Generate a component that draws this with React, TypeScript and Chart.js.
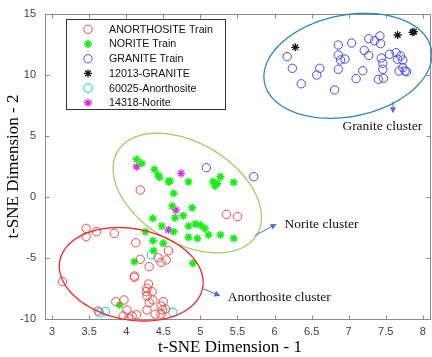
import React, { useEffect, useRef } from 'react';
import { Chart, registerables } from 'chart.js';

Chart.register(...registerables);

// ---- data (t-SNE coordinates) ----
const anorthositeTrain: number[][] = [
  [3.46, -2.57], [3.46, -3.25], [3.60, -2.84], [3.84, -2.98], [4.13, -3.75], [3.14, -6.94],
  [4.57, -4.40], [4.19, -5.11], [4.43, -4.98], [4.47, -5.35], [4.54, -5.16], [4.31, -5.71],
  [4.11, -6.58], [4.11, -6.48], [4.30, -7.13], [4.28, -7.48], [4.27, -7.76], [4.35, -7.76],
  [4.28, -8.11], [4.36, -8.44], [4.31, -8.66], [3.86, -8.58], [3.97, -8.44], [4.01, -9.26],
  [3.96, -9.75], [4.03, -9.94], [4.08, -9.75], [4.14, -9.65], [4.28, -9.26], [4.39, -9.61],
  [4.50, -8.58], [4.47, -8.93], [4.49, -9.26], [4.53, -9.18], [4.47, -9.59], [4.19, 0.57],
  [5.35, -1.42], [5.50, -1.61], [3.62, -9.34],
];
const noriteTrain: number[][] = [
  [4.14, 3.09], [4.21, 2.76], [4.38, 2.27], [4.43, 1.80], [4.45, 1.61], [4.57, 1.25],
  [4.59, 1.31], [4.84, 1.25], [4.64, 0.30], [5.17, 1.25], [5.20, 0.90], [5.23, 1.12],
  [5.27, 1.66], [5.45, 1.20], [4.62, -0.74], [4.89, -0.88], [4.36, -1.75], [4.66, -1.70],
  [4.77, -1.53], [4.48, -2.38], [4.64, -2.84], [4.84, -2.38], [4.93, -2.21], [5.00, -2.30],
  [5.06, -2.57], [5.11, -3.11], [4.84, -3.30], [4.96, -3.39], [5.27, -3.11], [5.45, -3.39],
  [4.26, -2.84], [4.36, -3.58], [4.50, -3.80], [4.37, -4.40], [4.11, -5.30], [4.90, -5.43],
  [3.91, -8.85],
];
const graniteTrain: number[][] = [
  [6.17, 11.5], [6.24, 10.55], [6.36, 9.28], [6.57, 10.0], [6.61, 10.55], [6.81, 8.77],
  [6.86, 12.46], [6.86, 11.64], [6.89, 11.23], [6.95, 11.31], [6.86, 10.47], [7.04, 12.62],
  [7.10, 9.70], [7.19, 10.35], [7.21, 12.02], [7.27, 11.61], [7.27, 12.97], [7.35, 12.81],
  [7.42, 13.2], [7.43, 12.57], [7.44, 11.39], [7.46, 10.96], [7.46, 10.47], [7.40, 9.65],
  [7.47, 9.73], [7.55, 11.7], [7.64, 11.83], [7.66, 11.29], [7.70, 11.56], [7.73, 11.23],
  [7.73, 10.6], [7.68, 10.33], [7.76, 10.33], [7.78, 10.27], [5.08, 2.40], [5.72, 1.66],
];
const granite12013: number[][] = [[6.28, 12.27], [7.66, 13.28], [7.88, 13.55], [7.86, 13.5]];
const anorthosite60025: number[][] = [[4.34, -4.75], [3.64, -9.48], [3.72, -9.40], [4.63, -9.45]];
const norite14318: number[][] = [[4.14, 2.48], [4.74, 1.94], [4.67, -1.07], [4.57, -2.70]];

const seriesNames = [
  'ANORTHOSITE Train', 'NORITE Train', 'GRANITE Train',
  '12013-GRANITE', '60025-Anorthosite', '14318-Norite',
];

const xTicks = [3, 3.5, 4, 4.5, 5, 5.5, 6, 6.5, 7, 7.5, 8];
const yTicks = [-10, -5, 0, 5, 10, 15];
const xRange = [2.905, 8.11];
const yRange = [-10, 15];

const xTitle = 't-SNE Dimension - 1';
const yTitle = 't-SNE Dimension - 2';

// cluster ellipses in data units: centre, major half-axis vector, minor half-axis vector
const clusterEllipses = [
  { cx: 6.989, cy: 10.754, ux: 1.124, uy: 1.385, vx: 0.136, vy: -4.073 },
  { cx: 4.824, cy: 0.328, ux: 0.938, uy: -3.419, vx: -0.348, vy: -3.512 },
  { cx: 4.068, cy: -6.336, ux: 0.963, uy: -1.105, vx: -0.114, vy: -3.666 },
];
// annotation arrows (data units) and labels
const arrowStarts = [[7.598, 7.81], [5.734, -3.17], [5.023, -7.48]];
const arrowEnds = [[7.598, 6.86], [6.027, -2.21], [5.270, -8.11]];
const clusterLabels = ['Granite cluster', 'Norite cluster', 'Anorthosite cluster'];
const labelAnchors = [[6.915, 5.76], [6.135, -2.21], [5.369, -8.22]];

const toPts = (a: number[][]) => a.map(([x, y]) => ({ x, y }));

const styles = [
  { color: 'rgb(255,70,70)', shape: 'circle', lw: 1 },
  { color: 'rgb(20,240,20)', shape: 'star', lw: 1.6 },
  { color: 'rgb(70,70,255)', shape: 'circle', lw: 1 },
  { color: 'rgb(20,20,20)', shape: 'star', lw: 1.3 },
  { color: 'rgb(40,220,230)', shape: 'circle', lw: 1.2 },
  { color: 'rgb(230,40,230)', shape: 'star', lw: 1.4 },
];
const ellipseColors = ['#2e86c8', '#9fcf5f', '#ff2020'];

function drawMarker(ctx: CanvasRenderingContext2D, shape: string, x: number, y: number, r: number) {
  ctx.beginPath();
  if (shape === 'circle') {
    ctx.arc(x, y, r, 0, Math.PI * 2);
  } else {
    for (let k = 0; k < 4; k++) {
      const ang = (k * Math.PI) / 4;
      const dx = Math.cos(ang) * r, dy = Math.sin(ang) * r;
      ctx.moveTo(x - dx, y - dy);
      ctx.lineTo(x + dx, y + dy);
    }
  }
  ctx.stroke();
}

const overlayPlugin = {
  id: 'overlay',
  afterDatasetsDraw(chart: any) {
    const { ctx, chartArea: a, scales } = chart;
    const sx = scales.x, sy = scales.y;
    ctx.save();

    // box + inward ticks
    ctx.strokeStyle = '#8a8a8a';
    ctx.lineWidth = 1;
    const L = Math.round(a.left) + 0.5, R = Math.round(a.right) - 0.5;
    const T = Math.round(a.top) + 0.5, B = Math.round(a.bottom) + 0.5;
    ctx.strokeRect(L, T, R - L, B - T);
    ctx.beginPath();
    const tl = 4;
    xTicks.forEach((v) => {
      const px = Math.round(sx.getPixelForValue(v)) + 0.5;
      ctx.moveTo(px, B); ctx.lineTo(px, B - tl);
      ctx.moveTo(px, T); ctx.lineTo(px, T + tl);
    });
    yTicks.forEach((v) => {
      const py = Math.round(sy.getPixelForValue(v)) + 0.5;
      ctx.moveTo(L, py); ctx.lineTo(L + tl, py);
      ctx.moveTo(R, py); ctx.lineTo(R - tl, py);
    });
    ctx.stroke();

    // ellipses
    clusterEllipses.forEach((e, i) => {
      ctx.beginPath();
      const n = 180;
      for (let k = 0; k <= n; k++) {
        const t = (k / n) * Math.PI * 2;
        const c = Math.cos(t), s = Math.sin(t);
        const px = sx.getPixelForValue(e.cx + e.ux * c + e.vx * s);
        const py = sy.getPixelForValue(e.cy + e.uy * c + e.vy * s);
        if (k === 0) ctx.moveTo(px, py); else ctx.lineTo(px, py);
      }
      ctx.closePath();
      ctx.strokeStyle = ellipseColors[i];
      ctx.lineWidth = 1.3;
      ctx.stroke();
    });

    // arrows
    ctx.strokeStyle = '#4472c4';
    ctx.fillStyle = '#4472c4';
    ctx.lineWidth = 1;
    arrowStarts.forEach((st, i) => {
      const en = arrowEnds[i];
      const x0 = sx.getPixelForValue(st[0]), y0 = sy.getPixelForValue(st[1]);
      const x1 = sx.getPixelForValue(en[0]), y1 = sy.getPixelForValue(en[1]);
      const ang = Math.atan2(y1 - y0, x1 - x0);
      const hl = 6, hw = 3;
      const bx = x1 - Math.cos(ang) * hl, by = y1 - Math.sin(ang) * hl;
      ctx.beginPath(); ctx.moveTo(x0, y0); ctx.lineTo(bx, by); ctx.stroke();
      ctx.beginPath();
      ctx.moveTo(x1, y1);
      ctx.lineTo(bx + Math.sin(ang) * hw, by - Math.cos(ang) * hw);
      ctx.lineTo(bx - Math.sin(ang) * hw, by + Math.cos(ang) * hw);
      ctx.closePath(); ctx.fill();
    });

    // cluster labels
    ctx.fillStyle = '#111';
    ctx.font = '13.5px "Liberation Serif", "Times New Roman", serif';
    ctx.textAlign = 'left';
    ctx.textBaseline = 'middle';
    clusterLabels.forEach((t, i) => {
      ctx.fillText(t, sx.getPixelForValue(labelAnchors[i][0]), sy.getPixelForValue(labelAnchors[i][1]));
    });

    // legend
    const lx = Math.round(a.left + 21) + 0.5, ly = Math.round(a.top + 5) + 0.5;
    const lw = 159, lh = 90;
    ctx.fillStyle = '#fff';
    ctx.fillRect(lx, ly, lw, lh);
    ctx.strokeStyle = '#333';
    ctx.lineWidth = 1;
    ctx.strokeRect(lx, ly, lw, lh);
    ctx.font = '10.7px "Liberation Sans", Arial, sans-serif';
    ctx.textBaseline = 'middle';
    seriesNames.forEach((name, i) => {
      const yy = ly + 9.8 + i * 14.7;
      const st = styles[i];
      ctx.strokeStyle = st.color;
      ctx.lineWidth = st.lw;
      drawMarker(ctx, st.shape, lx + 21.5, yy, st.shape === 'circle' ? 4.2 : 4);
      ctx.fillStyle = '#111';
      ctx.fillText(name, lx + 42.5, yy + 0.5);
    });

    // axis titles
    ctx.fillStyle = '#000';
    ctx.font = '17px "Liberation Serif", "Times New Roman", serif';
    ctx.textAlign = 'center';
    ctx.textBaseline = 'middle';
    ctx.fillText(xTitle, 230, a.bottom + 29);
    ctx.save();
    ctx.translate(14, (a.top + a.bottom) / 2);
    ctx.rotate(-Math.PI / 2);
    ctx.fillText(yTitle, 0, 0);
    ctx.restore();

    ctx.restore();
  },
};

export default function App() {
  const ref = useRef<HTMLCanvasElement | null>(null);
  useEffect(() => {
    if (!ref.current) return;
    const sets = [anorthositeTrain, noriteTrain, graniteTrain, granite12013, anorthosite60025, norite14318];
    const fmt = (v: any) => String(Number(v));
    const chart = new Chart(ref.current, {
      type: 'scatter',
      data: {
        datasets: sets.map((d, i) => ({
          label: seriesNames[i],
          data: toPts(d),
          pointStyle: styles[i].shape as any,
          pointRadius: styles[i].shape === 'circle' ? 4.2 : 4,
          pointBorderWidth: styles[i].lw,
          borderColor: styles[i].color,
          backgroundColor: 'rgba(0,0,0,0)',
          pointBackgroundColor: 'rgba(0,0,0,0)',
        })),
      },
      options: {
        responsive: false,
        animation: false,
        devicePixelRatio: 1,
        layout: { autoPadding: false, padding: { top: 14, right: 1, left: 0, bottom: 0 } },
        plugins: { legend: { display: false }, tooltip: { enabled: false }, title: { display: false } },
        scales: {
          x: {
            type: 'linear',
            min: xRange[0],
            max: xRange[1],
            grid: { display: false, drawTicks: false },
            border: { display: false },
            ticks: {
              includeBounds: false,
              color: '#404040',
              padding: 6,
              maxRotation: 0,
              autoSkip: false,
              callback: fmt,
              font: { family: '"Liberation Sans", Arial, sans-serif', size: 11 },
            },
            afterBuildTicks: (s: any) => { s.ticks = xTicks.map((v) => ({ value: v })); },
            afterFit: (s: any) => { s.height = 38; s.paddingRight = 0; s.paddingLeft = 0; },
          },
          y: {
            type: 'linear',
            min: yRange[0],
            max: yRange[1],
            grid: { display: false, drawTicks: false },
            border: { display: false },
            ticks: {
              includeBounds: false,
              color: '#404040',
              padding: 9,
              autoSkip: false,
              callback: fmt,
              font: { family: '"Liberation Sans", Arial, sans-serif', size: 11 },
            },
            afterBuildTicks: (s: any) => { s.ticks = yTicks.map((v) => ({ value: v })); },
            afterFit: (s: any) => { s.width = 45; s.paddingTop = 0; s.paddingBottom = 0; },
          },
        },
      },
      plugins: [overlayPlugin],
    });
    return () => chart.destroy();
  }, []);
  return (
    <div style={{ position: 'fixed', left: 0, top: 0, width: 432, height: 357, background: '#fff' }}>
      <canvas ref={ref} width={432} height={357} style={{ display: 'block', width: 432, height: 357 }} />
    </div>
  );
}
